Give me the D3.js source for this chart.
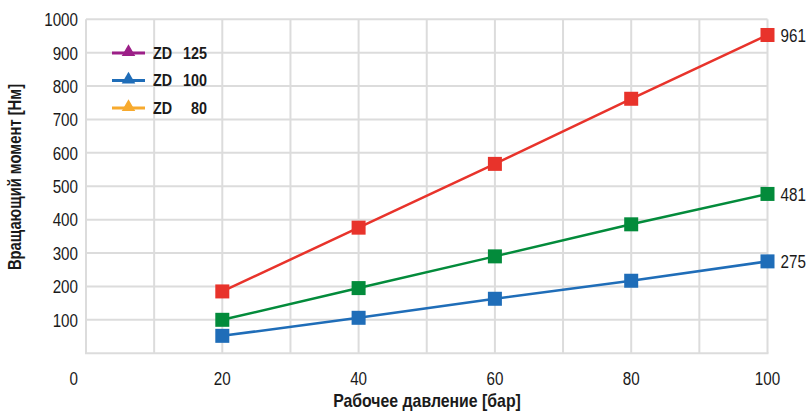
<!DOCTYPE html>
<html><head><meta charset="utf-8">
<script src="https://cdn.jsdelivr.net/npm/d3@7"></script>
<style>body{margin:0;background:#fff}</style>
</head><body><svg id="c" width="812" height="412"></svg>
<script>
const pressures = [20, 40, 60, 80, 100];
const seriesRed = [185, 376, 567, 762, 953];
const seriesGreen = [100, 195, 290, 386, 477];
const seriesBlue = [52, 106, 163, 217, 275];
const endLabels = ["961", "481", "275"];
const xTicks = [20, 40, 60, 80, 100];
const yTicks = [100, 200, 300, 400, 500, 600, 700, 800, 900, 1000];
const legendNames = ["ZD", "ZD", "ZD"];
const legendSizes = ["125", "100", "80"];
const legendColors = ["#9C1F87", "#1F6DB8", "#F7AA2E"];
const series = [
  {values: seriesRed, color: "#E8332B", label: endLabels[0]},
  {values: seriesGreen, color: "#038B3B", label: endLabels[1]},
  {values: seriesBlue, color: "#1F6DB8", label: endLabels[2]}
];

const svg = d3.select("#c");
const x = d3.scaleLinear().domain([0, 100]).range([86, 767.5]);
const y = d3.scaleLinear().domain([0, 1000]).range([353.2, 19.3]);
const font = "'Liberation Sans', Arial, sans-serif";
const grid = "#dcdcdc";
const ink = "#1a1a1a";

// text helper with horizontal condensing
function txt(parent, px, py, s, opts) {
  const o = Object.assign({size: 19, sx: 0.8, anchor: "start", weight: "normal", rot: 0}, opts || {});
  return parent.append("text")
    .attr("transform", `translate(${px},${py}) rotate(${o.rot}) scale(${o.sx},1)`)
    .attr("dy", "0.36em").attr("text-anchor", o.anchor)
    .attr("font-family", font).attr("font-size", o.size).attr("font-weight", o.weight)
    .attr("fill", ink).text(s);
}

// grid
const g = svg.append("g");
g.selectAll(".vg").data(d3.range(10, 101, 10)).enter().append("line")
  .attr("x1", d => x(d)).attr("x2", d => x(d)).attr("y1", y(1000)).attr("y2", y(0))
  .attr("stroke", grid).attr("stroke-width", 2);
g.selectAll(".hg").data(yTicks).enter().append("line")
  .attr("x1", x(0)).attr("x2", x(100)).attr("y1", d => y(d)).attr("y2", d => y(d))
  .attr("stroke", grid).attr("stroke-width", 2);
g.append("line").attr("x1", x(0)).attr("x2", x(0)).attr("y1", y(1000)).attr("y2", y(0)).attr("stroke", grid).attr("stroke-width", 2);
g.append("line").attr("x1", x(0)-1).attr("x2", x(100)+1).attr("y1", y(0)).attr("y2", y(0)).attr("stroke", grid).attr("stroke-width", 2);

// tick labels
yTicks.forEach(d => txt(svg, 78, y(d), d, {anchor: "end"}));
txt(svg, 78, 378, "0", {anchor: "end"});
xTicks.forEach(d => txt(svg, x(d), 378, d, {anchor: "middle"}));

// titles
txt(svg, 427, 401, "Рабочее давление [бар]", {anchor: "middle", weight: "bold", size: 18, sx: 0.88});
txt(svg, 15, 177, "Вращающий момент [Нм]", {anchor: "middle", weight: "bold", size: 18, sx: 0.82, rot: -90});

// series
const line = d3.line().x((d, i) => x(pressures[i])).y(d => y(d));
series.forEach(s => {
  svg.append("path").attr("d", line(s.values)).attr("fill", "none").attr("stroke", s.color).attr("stroke-width", 2.5);
  svg.selectAll(null).data(s.values).enter().append("rect")
    .attr("x", (d, i) => x(pressures[i]) - 7).attr("y", d => y(d) - 7)
    .attr("width", 14).attr("height", 14).attr("fill", s.color);
  txt(svg, x(100) + 13, y(s.values[s.values.length-1]), s.label);
});

// legend
const leg = svg.append("g");
legendNames.forEach((n, i) => {
  const ly = 53 + i * 27.5;
  leg.append("line").attr("x1", 112).attr("x2", 145).attr("y1", ly).attr("y2", ly)
    .attr("stroke", legendColors[i]).attr("stroke-width", 3);
  leg.append("path").attr("d", d3.symbol().type(d3.symbolTriangle).size(80)())
    .attr("transform", `translate(128.5,${ly - 1})`).attr("fill", legendColors[i]);
  txt(leg, 153, ly, n, {weight: "bold", size: 16.5, sx: 0.87});
  txt(leg, 207, ly, legendSizes[i], {weight: "bold", size: 16.5, sx: 0.87, anchor: "end"});
});
</script></body></html>
